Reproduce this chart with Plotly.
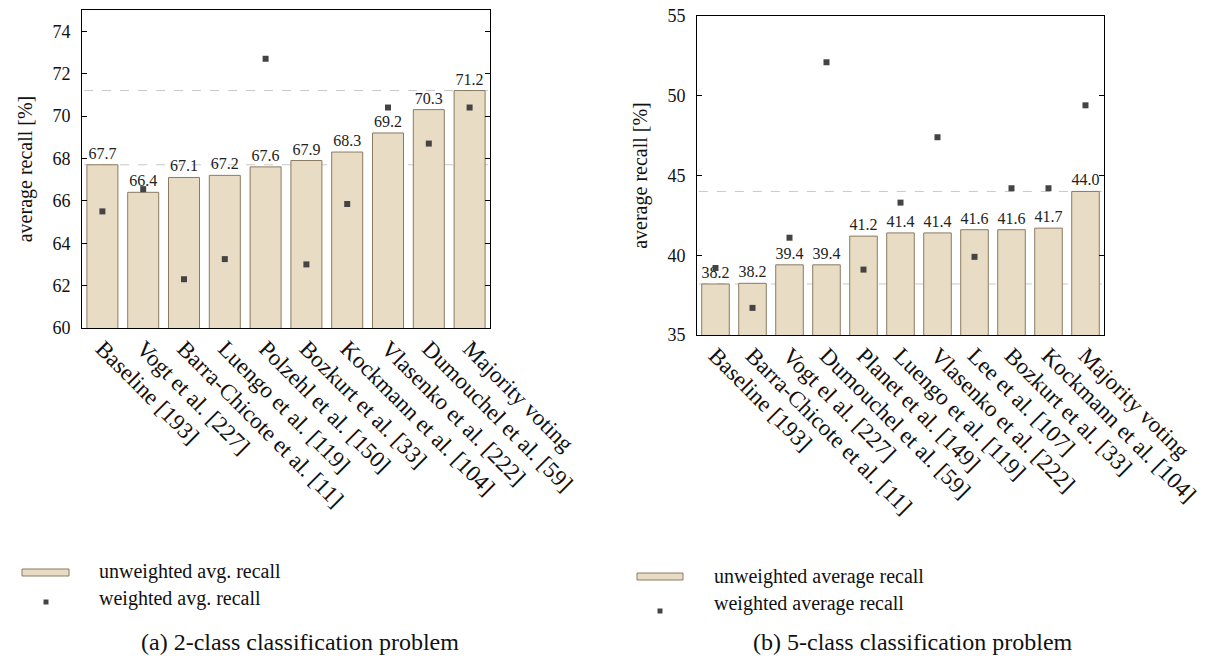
import plotly.graph_objects as go

# ---------------- data ----------------
cats_a = ["Baseline [193]", "Vogt et al. [227]", "Barra-Chicote et al. [11]",
          "Luengo et al. [119]", "Polzehl et al. [150]", "Bozkurt et al. [33]",
          "Kockmann et al. [104]", "Vlasenko et al. [222]", "Dumouchel et al. [59]",
          "Majority voting"]
uar_a = [67.7, 66.4, 67.1, 67.2, 67.6, 67.9, 68.3, 69.2, 70.3, 71.2]
war_a = [65.5, 66.55, 62.3, 63.25, 72.7, 63.0, 65.85, 70.4, 68.7, 70.4]
ref_a = [67.7, 71.2]

cats_b = ["Baseline [193]", "Barra-Chicote et al. [11]", "Vogt el al. [227]",
          "Dumouchel et al. [59]", "Planet et al. [149]", "Luengo et al. [119]",
          "Vlasenko et al. [222]", "Lee et al. [107]", "Bozkurt et al. [33]",
          "Kockmann et al. [104]", "Majority voting"]
uar_b = [38.2, 38.24, 39.4, 39.4, 41.2, 41.4, 41.4, 41.6, 41.6, 41.7, 44.0]
war_b = [39.2, 36.7, 41.1, 52.1, 39.1, 43.3, 47.4, 39.9, 44.2, 44.2, 49.4]
ref_b = [38.2, 44.0]

yticks_a = [60, 62, 64, 66, 68, 70, 72, 74]
yticks_b = [35, 40, 45, 50, 55]

# ---------------- style ----------------
FONT = "Liberation Serif"
BAR_FILL = "#e8ddc4"
BAR_LINE = "#8a7a60"
MARK = "#444444"
W, H = 1210, 657

def px_x(p):
    return p / W

def px_y(p):
    return 1 - p / H

fig = go.Figure()

fig.add_trace(go.Bar(x=cats_a, y=uar_a, xaxis="x", yaxis="y", width=0.76,
                     marker=dict(color=BAR_FILL, line=dict(color=BAR_LINE, width=1)),
                     texttemplate="%{y:.1f}", textposition="outside",
                     textfont=dict(family=FONT, size=16, color="#222"),
                     constraintext="none", cliponaxis=False, showlegend=False,
                     name="unweighted avg. recall"))
fig.add_trace(go.Scatter(x=cats_a, y=war_a, xaxis="x", yaxis="y", mode="markers",
                         marker=dict(symbol="square", size=6, color=MARK),
                         showlegend=False, name="weighted avg. recall"))

fig.add_trace(go.Bar(x=cats_b, y=uar_b, xaxis="x2", yaxis="y2", width=0.745,
                     marker=dict(color=BAR_FILL, line=dict(color=BAR_LINE, width=1)),
                     texttemplate="%{y:.1f}", textposition="outside",
                     textfont=dict(family=FONT, size=16, color="#222"),
                     constraintext="none", cliponaxis=False, showlegend=False,
                     name="unweighted average recall"))
fig.add_trace(go.Scatter(x=cats_b, y=war_b, xaxis="x2", yaxis="y2", mode="markers",
                         marker=dict(symbol="square", size=6, color=MARK),
                         showlegend=False, name="weighted average recall"))

# reference dashed lines (behind bars)
shapes = []
for v in ref_a:
    shapes.append(dict(type="line", xref="x", yref="y", x0=-0.45, x1=9.45, y0=v, y1=v,
                       line=dict(color="#c8c8c8", width=1, dash="dash"), layer="below"))
for v in ref_b:
    shapes.append(dict(type="line", xref="x2", yref="y2", x0=-0.45, x1=10.45, y0=v, y1=v,
                       line=dict(color="#c8c8c8", width=1, dash="dash"), layer="below"))

# manual legends
legend_rows = [
    (22, 69, 569, 576, 46, 602, 97, 571, 598, ("unweighted avg. recall", "weighted avg. recall")),
    (637, 683, 573, 580, 660, 611, 712, 576, 603, ("unweighted average recall", "weighted average recall")),
]
annotations = []
for sx0, sx1, sy0, sy1, mx, my, tx, ty1, ty2, labels in legend_rows:
    shapes.append(dict(type="rect", xref="paper", yref="paper",
                       x0=px_x(sx0), x1=px_x(sx1), y0=px_y(sy1), y1=px_y(sy0),
                       fillcolor=BAR_FILL, line=dict(color=BAR_LINE, width=1)))
    shapes.append(dict(type="rect", xref="paper", yref="paper",
                       x0=px_x(mx - 2.5), x1=px_x(mx + 2.5), y0=px_y(my + 2.5), y1=px_y(my - 2.5),
                       fillcolor=MARK, line=dict(width=0)))
    annotations.append(dict(xref="paper", yref="paper", x=px_x(tx), y=px_y(ty1),
                            xanchor="left", yanchor="middle", showarrow=False,
                            text=labels[0], font=dict(family=FONT, size=20, color="#111")))
    annotations.append(dict(xref="paper", yref="paper", x=px_x(tx), y=px_y(ty2),
                            xanchor="left", yanchor="middle", showarrow=False,
                            text=labels[1], font=dict(family=FONT, size=20, color="#111")))

# captions
annotations.append(dict(xref="paper", yref="paper", x=px_x(300), y=px_y(642),
                        xanchor="center", yanchor="middle", showarrow=False,
                        text="(a) 2-class classification problem",
                        font=dict(family=FONT, size=24, color="#111")))
annotations.append(dict(xref="paper", yref="paper", x=px_x(913), y=px_y(642),
                        xanchor="center", yanchor="middle", showarrow=False,
                        text="(b) 5-class classification problem",
                        font=dict(family=FONT, size=24, color="#111")))

xaxis_common = dict(showline=True, linecolor="black", linewidth=1, mirror=True,
                    ticks="", tickangle=45, showgrid=False, zeroline=False,
                    automargin=False, ticklabelstandoff=-3,
                    tickfont=dict(family=FONT, size=23, color="#111"), fixedrange=True)
yaxis_common = dict(showline=True, linecolor="black", linewidth=1, mirror="allticks",
                    ticks="inside", ticklen=5, tickcolor="black", showgrid=False,
                    zeroline=False, ticklabelstandoff=7, automargin=False,
                    ticklabeloverflow="allow", fixedrange=True,
                    tickfont=dict(family=FONT, size=18, color="#111"),
                    title=dict(text="average recall [%]", standoff=14,
                               font=dict(family=FONT, size=20, color="#111")))

fig.update_layout(
    width=W, height=H, margin=dict(l=0, r=0, t=0, b=0, autoexpand=False),
    paper_bgcolor="white", plot_bgcolor="white",
    showlegend=False, bargap=0.2, hovermode=False,
    xaxis=dict(domain=[px_x(82), px_x(490)], anchor="y", range=[-0.5, 9.5], **xaxis_common),
    yaxis=dict(domain=[px_y(328), px_y(10)], anchor="x", range=[60, 75],
               tickvals=yticks_a, **yaxis_common),
    xaxis2=dict(domain=[px_x(697), px_x(1104)], anchor="y2", range=[-0.5, 10.5], **xaxis_common),
    yaxis2=dict(domain=[px_y(335), px_y(16)], anchor="x2", range=[35, 55],
                tickvals=yticks_b, **yaxis_common),
    shapes=shapes, annotations=annotations,
)

# remove the default 8px page margin so the figure fills the window exactly
fig.write_html("out.html", config={"displayModeBar": False},
               post_script="document.body.style.margin = '0px';")
